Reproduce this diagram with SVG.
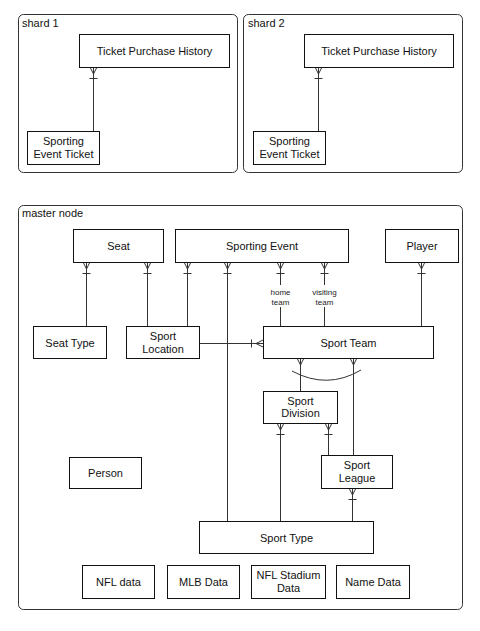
<svg xmlns="http://www.w3.org/2000/svg" width="480" height="631" viewBox="0 0 480 631">
  <style>
    .frame { fill: #fff; stroke: #333; stroke-width: 1; }
    .node rect { fill: #fff; stroke: #111; stroke-width: 1; }
    .label { font-family: "Liberation Sans", Arial, sans-serif; font-size: 11px; fill: #111; text-anchor: middle; }
    .title { font-family: "Liberation Sans", Arial, sans-serif; font-size: 11px; fill: #111; }
    .role { font-family: "Liberation Sans", Arial, sans-serif; font-size: 8px; fill: #222; text-anchor: middle; }
    .edge { fill: none; stroke: #333; stroke-width: 1; }
  </style>
  <defs>
    <!-- crow's foot (many) with a mandatory bar, drawn along the line direction -->
    <marker id="manyOne" markerUnits="userSpaceOnUse" markerWidth="20" markerHeight="20" refX="0" refY="0" orient="auto" overflow="visible">
      <path d="M0,-3.5 L7,0 L0,3.5 M0,0 L7,0 M11.5,-4 L11.5,4" fill="none" stroke="#333" stroke-width="1"/>
    </marker>
    <!-- crow's foot (many) only -->
    <marker id="many" markerUnits="userSpaceOnUse" markerWidth="20" markerHeight="20" refX="0" refY="0" orient="auto" overflow="visible">
      <path d="M0,-3.5 L7,0 L0,3.5 M0,0 L7,0" fill="none" stroke="#333" stroke-width="1"/>
    </marker>
  </defs>

  <rect width="480" height="631" fill="#fff"/>

  <!-- containers -->
  <g id="shard1">
    <rect class="frame" x="18.5" y="14.5" width="219" height="158" rx="5"/>
    <text class="title" x="22" y="27">shard 1</text>
  </g>
  <g id="shard2">
    <rect class="frame" x="243.5" y="14.5" width="219" height="158" rx="5"/>
    <text class="title" x="248" y="27">shard 2</text>
  </g>
  <g id="master">
    <rect class="frame" x="18.5" y="205.5" width="444" height="404" rx="5"/>
    <text class="title" x="22" y="217">master node</text>
  </g>

  <!-- connectors -->
  <g id="connectors">
    <line class="edge" x1="93.5" y1="67" x2="93.5" y2="131" marker-start="url(#manyOne)"/>
    <line class="edge" x1="318.5" y1="67" x2="318.5" y2="131" marker-start="url(#manyOne)"/>

    <line class="edge" x1="86.5" y1="262" x2="86.5" y2="326" marker-start="url(#manyOne)"/>
    <line class="edge" x1="147.5" y1="262" x2="147.5" y2="326" marker-start="url(#manyOne)"/>
    <line class="edge" x1="187.5" y1="262" x2="187.5" y2="326" marker-start="url(#manyOne)"/>
    <line class="edge" x1="227.5" y1="262" x2="227.5" y2="521" marker-start="url(#manyOne)"/>
    <line class="edge" x1="280.5" y1="262" x2="280.5" y2="326" marker-start="url(#manyOne)"/>
    <line class="edge" x1="324.5" y1="262" x2="324.5" y2="326" marker-start="url(#manyOne)"/>
    <line class="edge" x1="421.5" y1="262" x2="421.5" y2="326" marker-start="url(#manyOne)"/>
    <line class="edge" x1="263" y1="343.5" x2="199" y2="343.5" marker-start="url(#manyOne)"/>

    <line class="edge" x1="300.5" y1="358" x2="300.5" y2="391" marker-start="url(#many)"/>
    <line class="edge" x1="353.5" y1="358" x2="353.5" y2="456" marker-start="url(#many)"/>
    <path class="edge" d="M292,371 Q327,390 361,370"/>

    <line class="edge" x1="280.5" y1="423" x2="280.5" y2="521" marker-start="url(#manyOne)"/>
    <line class="edge" x1="328.5" y1="423" x2="328.5" y2="456" marker-start="url(#manyOne)"/>
    <line class="edge" x1="352.5" y1="488" x2="352.5" y2="521" marker-start="url(#manyOne)"/>

    <!-- role labels on the Sporting Event / Sport Team links -->
    <rect x="268" y="285" width="25" height="22" fill="#fff"/>
    <text class="role" x="280.5" y="295">home</text>
    <text class="role" x="280.5" y="305">team</text>
    <rect x="310" y="285" width="29" height="22" fill="#fff"/>
    <text class="role" x="324.5" y="295">visiting</text>
    <text class="role" x="324.5" y="305">team</text>
  </g>

  <!-- shard 1 nodes -->
  <g id="tph1" class="node">
    <rect x="79.5" y="34.5" width="150" height="33"/>
    <text class="label" x="154.5" y="55">Ticket Purchase History</text>
  </g>
  <g id="set1" class="node">
    <rect x="27.5" y="131.5" width="72" height="33"/>
    <text class="label" x="63.5" y="145">Sporting</text>
    <text class="label" x="63.5" y="157.5">Event Ticket</text>
  </g>

  <!-- shard 2 nodes -->
  <g id="tph2" class="node">
    <rect x="304.5" y="34.5" width="149" height="33"/>
    <text class="label" x="379" y="55">Ticket Purchase History</text>
  </g>
  <g id="set2" class="node">
    <rect x="253.5" y="131.5" width="72" height="33"/>
    <text class="label" x="289.5" y="145">Sporting</text>
    <text class="label" x="289.5" y="157.5">Event Ticket</text>
  </g>

  <!-- master node entities -->
  <g id="seat" class="node">
    <rect x="73.5" y="229.5" width="90" height="33"/>
    <text class="label" x="118.5" y="250">Seat</text>
  </g>
  <g id="sportingEvent" class="node">
    <rect x="175.5" y="229.5" width="173" height="33"/>
    <text class="label" x="262" y="250">Sporting Event</text>
  </g>
  <g id="player" class="node">
    <rect x="385.5" y="229.5" width="73" height="33"/>
    <text class="label" x="422" y="250">Player</text>
  </g>
  <g id="seatType" class="node">
    <rect x="33.5" y="326.5" width="73" height="32"/>
    <text class="label" x="70" y="346.5">Seat Type</text>
  </g>
  <g id="sportLocation" class="node">
    <rect x="126.5" y="326.5" width="73" height="32"/>
    <text class="label" x="163" y="340">Sport</text>
    <text class="label" x="163" y="352.5">Location</text>
  </g>
  <g id="sportTeam" class="node">
    <rect x="263.5" y="326.5" width="170" height="32"/>
    <text class="label" x="348.5" y="346.5">Sport Team</text>
  </g>
  <g id="sportDivision" class="node">
    <rect x="263.5" y="391.5" width="74" height="32"/>
    <text class="label" x="300.5" y="404.5">Sport</text>
    <text class="label" x="300.5" y="417">Division</text>
  </g>
  <g id="person" class="node">
    <rect x="69.5" y="457.5" width="72" height="31"/>
    <text class="label" x="105.5" y="477">Person</text>
  </g>
  <g id="sportLeague" class="node">
    <rect x="321.5" y="455.5" width="71" height="33"/>
    <text class="label" x="357" y="469">Sport</text>
    <text class="label" x="357" y="481.5">League</text>
  </g>
  <g id="sportType" class="node">
    <rect x="199.5" y="521.5" width="174" height="32"/>
    <text class="label" x="286.5" y="541.5">Sport Type</text>
  </g>
  <g id="nflData" class="node">
    <rect x="82.5" y="565.5" width="72" height="33"/>
    <text class="label" x="118.5" y="586">NFL data</text>
  </g>
  <g id="mlbData" class="node">
    <rect x="167.5" y="565.5" width="72" height="33"/>
    <text class="label" x="203.5" y="586">MLB Data</text>
  </g>
  <g id="nflStadiumData" class="node">
    <rect x="251.5" y="565.5" width="74" height="33"/>
    <text class="label" x="288.5" y="579">NFL Stadium</text>
    <text class="label" x="288.5" y="591.5">Data</text>
  </g>
  <g id="nameData" class="node">
    <rect x="336.5" y="565.5" width="73" height="33"/>
    <text class="label" x="373" y="586">Name Data</text>
  </g>
</svg>
